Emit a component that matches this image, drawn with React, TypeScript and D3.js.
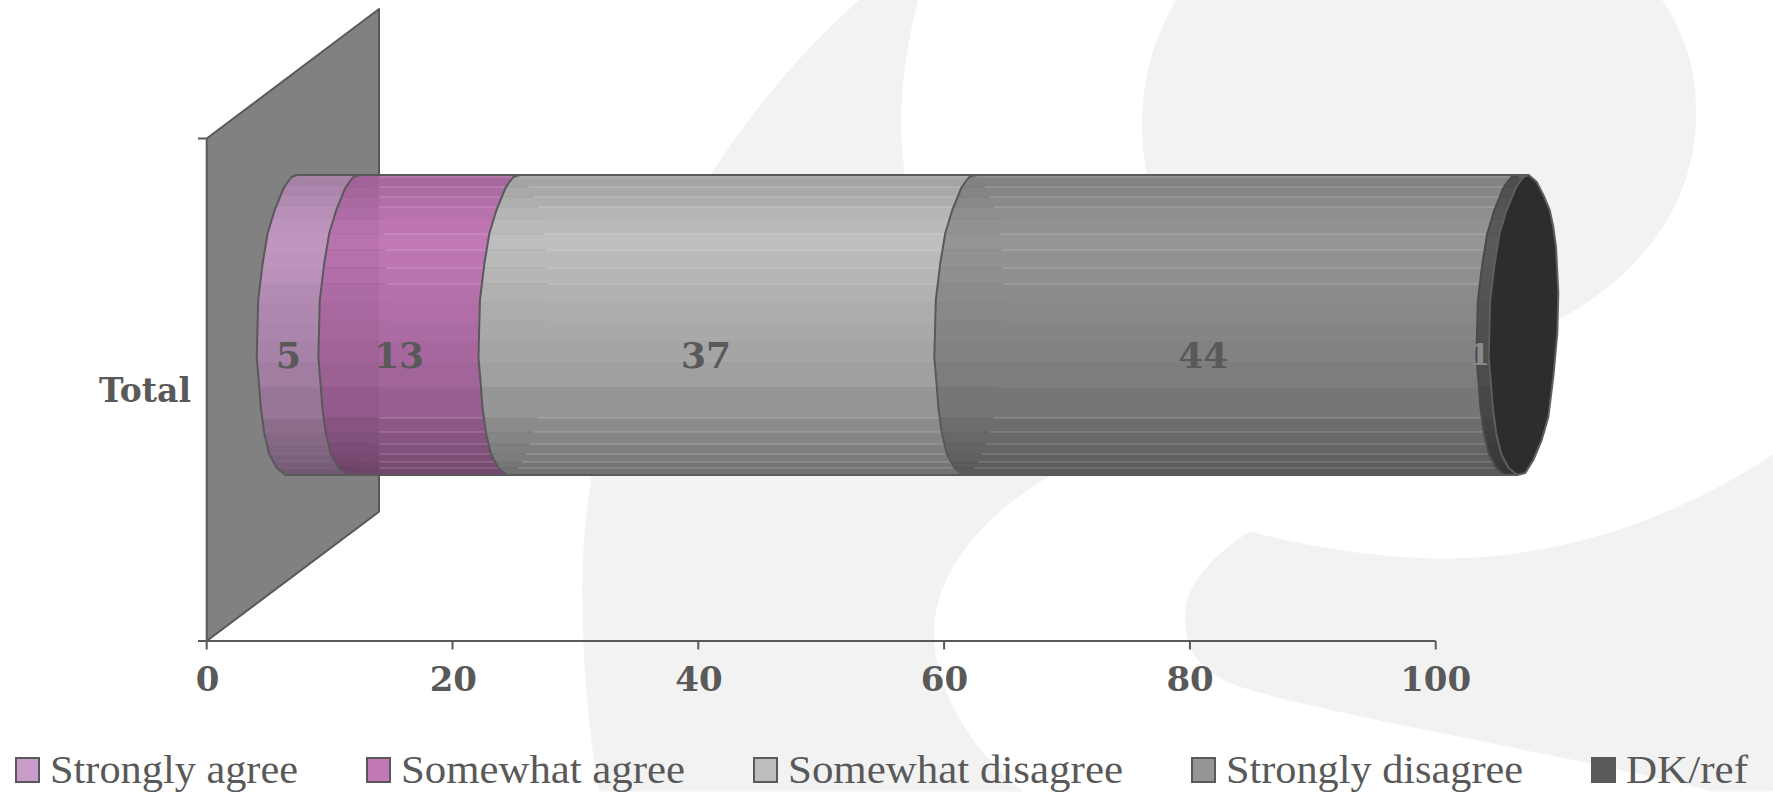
import React from "react";
import * as d3 from "d3";

// ---- data ----
const seriesNames = ["Strongly agree", "Somewhat agree", "Somewhat disagree", "Strongly disagree", "DK/ref"];
const seriesValues = [5, 13, 37, 44, 1];
const seriesColors = ["#c89cc8", "#c178b7", "#bebebe", "#959595", "#5a5a5a"];
const categoryName = "Total";
const axisTicks = [0, 20, 40, 60, 80, 100];

// ---- layout / geometry of the faceted 3D cylinder ----
const W = 1773, H = 792;
const INK = "#595959";
const axisY = 641, tickTopY = 138.5, wallX = 379, wallTop = 9, wallBottom = 511.7;
const cylTop = 175, cylBottom = 475;
const frontY = [175, 177, 182, 188, 210, 233, 263, 300, 357, 387, 407, 433, 454, 468, 475];
const frontDx = [90, 85, 81, 77, 68, 61, 56, 51.5, 50, 52.5, 54, 57.5, 62.5, 70, 78.5];
const backY = [175, 182, 195, 210, 227, 247, 293, 333, 377, 417, 440, 460, 473, 475];
const backDx = [90, 98, 104.6, 111, 114.6, 117.3, 119.6, 118.6, 114.6, 109.6, 103, 94.6, 86.6, 78.5];
const bandEdges = [175, 177, 187, 197, 207, 219, 234, 250, 268, 284, 302, 321, 340, 362, 387, 418, 432, 444, 454, 462, 468, 475];
const bandShade = [0.86, 0.87, 0.89, 0.92, 0.95, 0.98, 1, 0.98, 0.96, 0.93, 0.91, 0.89, 0.87, 0.84, 0.79, 0.73, 0.7, 0.67, 0.65, 0.62, 0.6];
const legendTextW = [248, 284, 335, 297, 122];
const legendGap = 69, legendSwatchW = 23, legendPad = 11, legendStart = 16, legendBaseline = 783;

const x = d3.scaleLinear().domain([0, 100]).range([206.7, 1434.7]);
const xBar = d3.scaleLinear().domain([0, 100]).range([206.7, 1438.7]);
const front = d3.scaleLinear().domain(frontY).range(frontDx);
const back = d3.scaleLinear().domain(backY).range(backDx);
const lineGen = d3.line<[number, number]>().x((d) => d[0]).y((d) => d[1]);

const frontPts = (v: number): [number, number][] => frontY.map((y, i) => [xBar(v) + frontDx[i], y]);
const backPts = (v: number): [number, number][] => backY.map((y, i) => [xBar(v) + backDx[i], y]);
const stacked = seriesValues.reduce<number[]>((a, v) => [...a, a[a.length - 1] + v], [0]);
const total = stacked[stacked.length - 1];

const shadeColor = (c: string, k: number) => {
  const r = d3.rgb(c);
  return d3.rgb(r.r * k, r.g * k, r.b * k).formatHex();
};

const serif = "'Liberation Serif', serif";
const boldSerif = "'DejaVu Serif', serif";

function Watermark() {
  return (
    <g transform="scale(1.1307)" fill="#f2f2f2">
      <path d="M760,0 C640,105 515,300 515,520 C515,590 521,650 530,700 L905,700 C860,665 826,610 826,560 C826,500 880,445 945,412 C880,340 797,240 797,110 C797,70 803,35 812,0 Z" />
      <path d="M1040,0 C1020,35 1010,70 1010,110 C1010,180 1040,240 1090,290 L1360,292 C1440,255 1500,190 1500,100 C1500,60 1490,30 1470,0 Z" />
      <path d="M1105,470 C1075,490 1048,515 1048,545 C1048,575 1060,592 1090,605 C1150,628 1400,670 1515,700 L1568,700 L1568,402 C1480,460 1380,493 1280,494 C1220,494 1160,484 1105,470 Z" />
    </g>
  );
}

export default function App() {
  const cylPath =
    lineGen(frontPts(0))! + "L" + backPts(total).slice().reverse().map((p) => p.join(",")).join("L") + "Z";
  return (
    <svg width={W} height={H} viewBox={`0 0 ${W} ${H}`} style={{ position: "absolute", left: 0, top: 0, display: "block", background: "#fff" }}>
      <Watermark />

      {/* back wall */}
      <path
        d={`M${x(0)},${tickTopY}L${wallX},${wallTop}L${wallX},${wallBottom}L${x(0)},${axisY}Z`}
        fill="#818181"
        stroke={INK}
        strokeWidth={2}
        strokeLinejoin="round"
      />

      {/* axes */}
      <g stroke={INK} strokeWidth={2} fill="none">
        <line x1={x(0)} x2={x(100) + 1} y1={axisY} y2={axisY} />
        <line x1={198} x2={x(0)} y1={axisY} y2={axisY} />
        <line x1={198} x2={x(0)} y1={tickTopY} y2={tickTopY} />
        {axisTicks.map((t) => (
          <line key={t} x1={x(t) + (t / 100)} x2={x(t) + (t / 100)} y1={axisY} y2={axisY + 8.5} />
        ))}
      </g>
      {axisTicks.map((t) => (
        <text key={t} x={x(t) + 1} y={691} textAnchor="middle" fontFamily={boldSerif} fontWeight="bold" fontSize={34} fill={INK}>
          {t}
        </text>
      ))}
      <text x={191} y={402} textAnchor="end" fontFamily={boldSerif} fontWeight="bold" fontSize={33} fill={INK}>
        {categoryName}
      </text>

      {/* cylinder segments */}
      <defs>
        <clipPath id="cyl">
          <path d={cylPath} />
        </clipPath>
        {seriesValues.map((_, i) => (
          <clipPath id={`seg${i}`} key={i}>
            <path d={lineGen(frontPts(stacked[i]))! + "L" + frontPts(stacked[i + 1]).slice().reverse().map((p) => p.join(",")).join("L") + "Z"} />
          </clipPath>
        ))}
      </defs>
      {seriesValues.map((_, i) => {
        const start = stacked[i];
        const end = stacked[i + 1];
        const x0 = xBar(start) + 40;
        const x1 = xBar(end) + 130;
        return (
          <g key={i} clipPath={`url(#seg${i})`}>
            {bandShade.map((k, b) => (
              <rect key={b} x={x0} width={x1 - x0} y={bandEdges[b]} height={bandEdges[b + 1] - bandEdges[b] + 0.5} fill={shadeColor(seriesColors[i], k)} />
            ))}
            {bandEdges.slice(1, -1).map((y) => {
              const split = i === 0 ? x0 : xBar(start) + back(y);
              const faint = y > 290 && y < 400;
              const none = y === 219;
              return (
                <g key={y}>
                  {i > 0 && <line x1={x0} x2={split} y1={y} y2={y} stroke="#000" strokeOpacity={faint ? 0.01 : 0.06} strokeWidth={1} />}
                  <line x1={Math.max(split, i === 0 ? 0 : wallX)} x2={x1} y1={y} y2={y} stroke="#fff" strokeOpacity={none ? 0 : faint ? 0.03 : i === 0 ? 0.08 : 0.24} strokeWidth={1} />
                </g>
              );
            })}
          </g>
        );
      })}
      {/* the wall shows faintly through the bar */}
      <rect x={200} y={cylTop} width={wallX - 200} height={cylBottom - cylTop} fill="#000" fillOpacity={0.04} clipPath="url(#cyl)" />

      {/* segment edges */}
      <g fill="none" stroke={INK} strokeWidth={2} strokeLinejoin="round">
        {stacked.slice(0, -1).map((v, i) => (
          <path key={v} d={lineGen(frontPts(v))!} stroke={i === seriesValues.length - 1 ? "#4a4a4a" : INK} />
        ))}
        <line x1={xBar(0) + frontDx[0]} x2={xBar(total) + frontDx[0]} y1={cylTop} y2={cylTop} />
        <line x1={xBar(0) + frontDx[frontDx.length - 1]} x2={xBar(total) + frontDx[frontDx.length - 1]} y1={cylBottom} y2={cylBottom} />
      </g>

      {/* end cap */}
      <path
        d={lineGen(frontPts(total))! + "L" + backPts(total).slice().reverse().map((p) => p.join(",")).join("L") + "Z"}
        fill="#2d2d2d"
        stroke="#5e5e5e"
        strokeWidth={2}
        strokeLinejoin="round"
      />

      {/* data labels */}
      {seriesValues.map((v, i) => {
        const last = i === seriesValues.length - 1;
        return (
          <text
            key={i}
            x={x(stacked[i] + v / 2) + front(355) + 1}
            y={last ? 365 : 368}
            textAnchor="middle"
            fontFamily={boldSerif}
            fontWeight="bold"
            fontSize={last ? 30 : 36}
            fill={last ? "#8a8a8a" : INK}
          >
            {v}
          </text>
        );
      })}

      {/* legend */}
      {seriesNames.map((name, i) => {
        const left = legendStart + legendTextW.slice(0, i).reduce((a, w) => a + w + legendSwatchW + legendPad + legendGap, 0);
        return (
          <g key={name}>
            <rect x={left} y={758} width={legendSwatchW} height={24} fill={seriesColors[i]} stroke={INK} strokeWidth={2} />
            <text
              x={left + legendSwatchW + legendPad}
              y={legendBaseline}
              fontFamily={serif}
              fontSize={41}
              fill={INK}
              textLength={legendTextW[i]}
              lengthAdjust="spacingAndGlyphs"
            >
              {name}
            </text>
          </g>
        );
      })}
    </svg>
  );
}
